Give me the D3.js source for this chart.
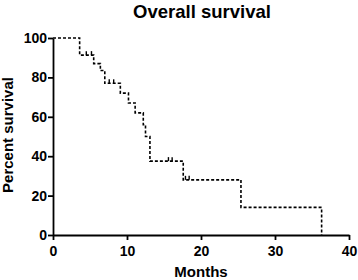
<!DOCTYPE html>
<html>
<head>
<meta charset="utf-8">
<script src="https://cdn.jsdelivr.net/npm/d3@7"></script>
<style>
  body { margin: 0; background: #fff; }
  svg text { font-family: "Liberation Sans", Arial, sans-serif; font-weight: bold; fill: #000; }
</style>
</head>
<body>
<svg width="358" height="280"></svg>
<script>
  // Kaplan-Meier steps: event time (months) and survival after it (%)
  const eventTimes = [0, 3.6, 5.5, 6.4, 7.0, 9.1, 10.2, 11.1, 12.2, 12.5, 13.1, 17.6, 25.4, 36.3];
  const survival = [100, 91.3, 87.0, 83.5, 77.0, 72.0, 67.0, 62.0, 56.0, 50.0, 37.5, 28.0, 14.0, 0];
  // censored observations
  const censorTimes = [4.5, 5.2, 7.6, 8.2, 15.6, 16.1, 17.9, 18.4];
  const censorValues = [91.3, 91.3, 77.0, 77.0, 37.5, 37.5, 28.0, 28.0];
  const xTicks = [0, 10, 20, 30, 40];
  const yTicks = [0, 20, 40, 60, 80, 100];

  const margin = {top: 38, right: 9, bottom: 45, left: 53};
  const svg = d3.select("svg");
  const width = +svg.attr("width") - margin.left - margin.right;
  const height = +svg.attr("height") - margin.top - margin.bottom;

  const x = d3.scaleLinear().domain([0, 40]).range([0, width]);
  const y = d3.scaleLinear().domain([0, 100]).range([height, 0]);

  const g = svg.append("g").attr("transform", "translate(" + margin.left + "," + margin.top + ")");

  const xAxis = g.append("g")
      .attr("transform", "translate(0," + height + ")")
      .call(d3.axisBottom(x).tickValues(xTicks).tickSize(5).tickSizeOuter(0));
  const yAxis = g.append("g")
      .call(d3.axisLeft(y).tickValues(yTicks).tickSize(5).tickSizeOuter(0));

  [xAxis, yAxis].forEach((a) => {
    a.select(".domain").attr("stroke", "#000").attr("stroke-width", 1.8);
    a.selectAll(".tick line").attr("stroke", "#000").attr("stroke-width", 1.8);
    a.selectAll(".tick text").style("font-size", "14px").attr("fill", "#000");
  });
  xAxis.selectAll(".tick text").attr("dy", "0.9em");
  yAxis.selectAll(".tick text").attr("x", -6);

  // survival curve as a step line
  const steps = eventTimes.map((t, i) => ({t: t, s: survival[i]}));
  const line = d3.line()
      .x((d) => x(d.t))
      .y((d) => y(d.s))
      .curve(d3.curveStepAfter);

  g.append("path")
      .datum(steps)
      .attr("fill", "none")
      .attr("stroke", "#000")
      .attr("stroke-width", 1.6)
      .attr("stroke-dasharray", "3,2")
      .attr("d", line);

  g.selectAll(".censor")
    .data(censorTimes)
    .enter().append("line")
      .attr("class", "censor")
      .attr("x1", (d) => x(d))
      .attr("x2", (d) => x(d))
      .attr("y1", (d, i) => y(censorValues[i]) - 4)
      .attr("y2", (d, i) => y(censorValues[i]))
      .attr("stroke", "#000")
      .attr("stroke-width", 1.4);

  svg.append("text")
      .attr("x", 202)
      .attr("y", 18)
      .attr("text-anchor", "middle")
      .style("font-size", "18.5px")
      .text("Overall survival");

  svg.append("text")
      .attr("x", 201)
      .attr("y", 277)
      .attr("text-anchor", "middle")
      .style("font-size", "15px")
      .text("Months");

  svg.append("text")
      .attr("transform", "rotate(-90)")
      .attr("x", -135)
      .attr("y", 13)
      .attr("text-anchor", "middle")
      .style("font-size", "15px")
      .text("Percent survival");
</script>
</body>
</html>
